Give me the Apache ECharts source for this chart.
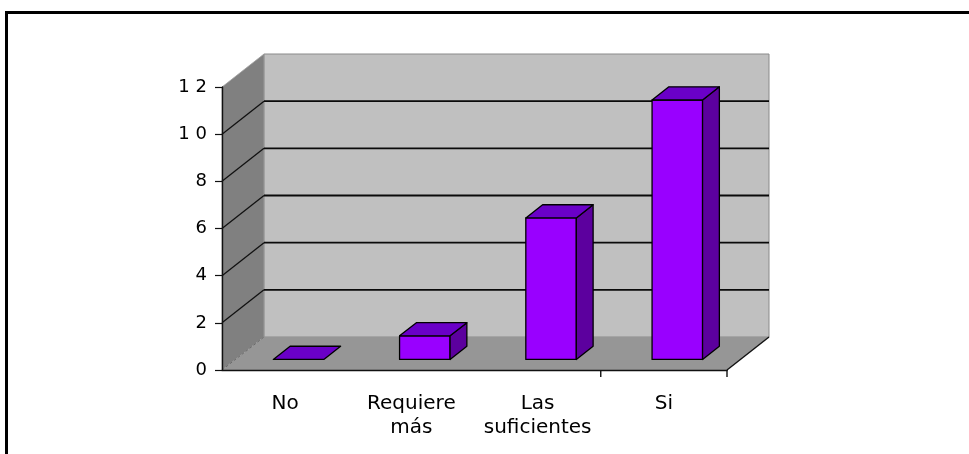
<!DOCTYPE html>
<html>
<head>
<meta charset="utf-8">
<script src="https://cdn.jsdelivr.net/npm/echarts@6/dist/echarts.min.js"></script>
<style>
  html, body { margin: 0; padding: 0; background: #fff; }
  #chart { width: 969px; height: 454px; }
</style>
</head>
<body>
<div id="chart"></div>
<script>
// Answers per category
const categories = ['No', 'Requiere\nmás', 'Las\nsuficientes', 'Si'];
const counts = [0, 1, 6, 11];

// Value axis
const yMin = 0;
const yMax = 12;
const yStep = 2;
const yTickLabels = ['0', '2', '4', '6', '8', '1 0', '1 2'];

// Oblique projection of the chart's depth (pixels)
const DX = 42, DY = 33;
const BAR_FRONT = 0.32;   // bar front plane, as a fraction of the depth
const BAR_DEPTH = 0.40;   // bar depth, as a fraction of the depth
const BAR_WIDTH = 0.40;   // bar width, as a fraction of a category band

const chart = echarts.init(document.getElementById('chart'), null, { renderer: 'canvas' });

// Walls, floor, gridlines and category ticks of the 3-D box
function renderBox(params, api) {
  const cs = params.coordSys;
  const x0 = cs.x, x1 = cs.x + cs.width;
  const yt = cs.y, yb = cs.y + cs.height;
  const kids = [];

  kids.push({
    type: 'rect',
    shape: { x: x0 + DX, y: yt - DY, width: cs.width, height: cs.height },
    style: { fill: '#C0C0C0', stroke: '#8a8a8a', lineWidth: 1 }
  });
  kids.push({
    type: 'polygon',
    shape: { points: [[x0, yb], [x0, yt], [x0 + DX, yt - DY], [x0 + DX, yb - DY]] },
    style: { fill: '#808080', stroke: '#a0a0a0', lineWidth: 0.8 }
  });
  kids.push({
    type: 'polygon',
    shape: { points: [[x0, yb], [x0 + DX, yb - DY], [x1 + DX, yb - DY], [x1, yb]] },
    style: { fill: '#969696' }
  });

  for (let v = yMin; v <= yMax; v += yStep) {
    const y = api.coord([0, v])[1];
    if (v > yMin && v < yMax) {
      kids.push({
        type: 'line',
        shape: { x1: x0 + DX, y1: y - DY, x2: x1 + DX, y2: y - DY },
        style: { stroke: '#0a0a0a', lineWidth: 1.8 }
      });
    }
    if (v < yMax) {
      kids.push({
        type: 'line',
        shape: { x1: x0, y1: y, x2: x0 + DX, y2: y - DY },
        style: { stroke: v === yMin ? '#6a6a6a' : '#111', lineWidth: v === yMin ? 1 : 1.3, lineDash: v === yMin ? [3, 2] : null }
      });
    }
  }

  // right edge of the floor
  kids.push({
    type: 'line',
    shape: { x1: x1, y1: yb, x2: x1 + DX, y2: yb - DY },
    style: { stroke: '#111', lineWidth: 1.4 }
  });

  // category ticks: between the last two categories and at the end of the axis
  const last = categories.length - 1;
  const tickXs = [
    (api.coord([last - 1, 0])[0] + api.coord([last, 0])[0]) / 2,
    x1
  ];
  tickXs.forEach(function (tx) {
    kids.push({
      type: 'line',
      shape: { x1: tx, y1: yb, x2: tx, y2: yb + 7 },
      style: { stroke: '#111', lineWidth: 1.4 }
    });
  });

  return { type: 'group', children: kids };
}

// One prism per category
function renderBar(params, api) {
  const idx = api.value(0);
  const val = api.value(1);
  const base = api.coord([idx, 0]);
  const top = api.coord([idx, val]);
  const band = api.size([1, 0])[0];
  const w = band * BAR_WIDTH;
  const fx = base[0] - w / 2 + DX * BAR_FRONT;
  const fyb = base[1] - DY * BAR_FRONT;
  const fyt = top[1] - DY * BAR_FRONT;
  const bx = DX * BAR_DEPTH, by = DY * BAR_DEPTH;
  const edge = { stroke: '#000', lineWidth: 1.3, lineJoin: 'round' };
  const kids = [];
  if (fyb - fyt > 0.5) {
    kids.push({
      type: 'rect',
      shape: { x: fx, y: fyt, width: w, height: fyb - fyt },
      style: Object.assign({ fill: '#9900FF' }, edge)
    });
    kids.push({
      type: 'polygon',
      shape: { points: [[fx + w, fyt], [fx + w + bx, fyt - by], [fx + w + bx, fyb - by], [fx + w, fyb]] },
      style: Object.assign({ fill: '#5C009E' }, edge)
    });
  }
  kids.push({
    type: 'polygon',
    shape: { points: [[fx, fyt], [fx + bx, fyt - by], [fx + w + bx, fyt - by], [fx + w, fyt]] },
    style: Object.assign({ fill: '#6A00C8' }, edge)
  });
  return { type: 'group', children: kids };
}

chart.setOption({
  animation: false,
  backgroundColor: '#fff',
  graphic: [{
    type: 'rect',
    shape: { x: 6.5, y: 12.5, width: 1000, height: 600 },
    style: { fill: null, stroke: '#000', lineWidth: 3 },
    silent: true
  }],
  grid: { left: 222, top: 87, width: 505, height: 283, containLabel: false },
  xAxis: {
    type: 'category',
    data: categories,
    boundaryGap: true,
    axisLine: { show: true, lineStyle: { color: '#111', width: 1.4 } },
    axisTick: { show: false },
    axisLabel: {
      interval: 0,
      margin: 22,
      color: '#000',
      fontFamily: 'DejaVu Sans',
      fontSize: 20,
      lineHeight: 24
    },
    splitLine: { show: false }
  },
  yAxis: {
    type: 'value',
    min: yMin,
    max: yMax,
    interval: yStep,
    axisLine: { show: true, lineStyle: { color: '#111', width: 1.4 } },
    axisTick: { show: true, length: 7, lineStyle: { color: '#111', width: 1.2 } },
    axisLabel: {
      margin: 15,
      color: '#000',
      fontFamily: 'DejaVu Sans',
      fontSize: 18,
      padding: [0, 0, 9, 0],
      formatter: function (v) { return yTickLabels[Math.round((v - yMin) / yStep)]; }
    },
    splitLine: { show: false }
  },
  series: [
    {
      type: 'custom',
      z: -1,
      silent: true,
      renderItem: renderBox,
      data: [[0, 0]]
    },
    {
      type: 'custom',
      z: 3,
      silent: true,
      renderItem: renderBar,
      data: counts.map(function (v, i) { return [i, v]; })
    }
  ]
});
</script>
</body>
</html>
